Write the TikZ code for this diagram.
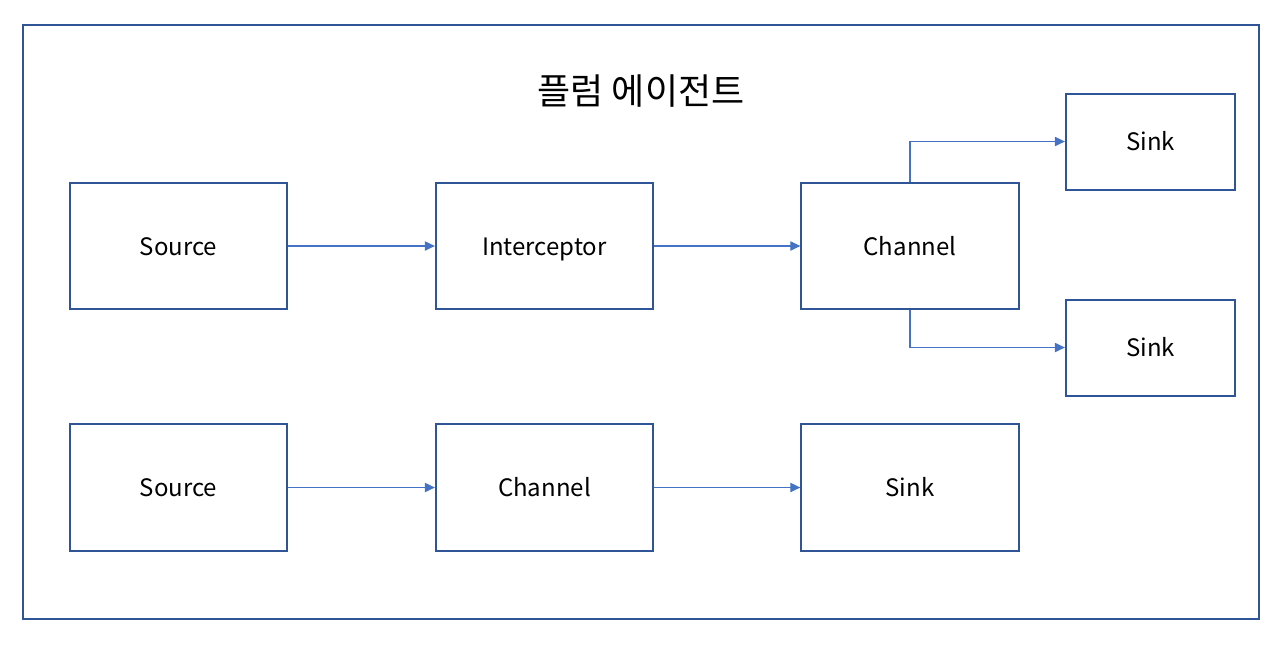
\documentclass[tikz,border=0pt]{standalone}
\usepackage{fontspec}
\setmainfont{Noto Sans CJK KR}
\usepackage{xcolor}
\usepackage{tikz}
\usetikzlibrary{positioning}
\usetikzlibrary{arrows.meta}
\definecolor{boxblue}{HTML}{2F5597}
\definecolor{arrowblue}{HTML}{4472C4}

\begin{document}
\begin{tikzpicture}[x=0.75pt,y=-0.75pt,
  box/.style={draw=boxblue, line width=1.5pt, minimum width=163pt, minimum height=95pt,
    text height=15pt, text depth=1.5pt, font=\fontsize{18}{21}\selectfont},
  sinkbox/.style={box, minimum width=127pt, minimum height=72pt},
  flow/.style={draw=arrowblue, line width=0.8pt, -{Triangle[length=7.5pt,width=7pt]}}]

\useasboundingbox (0,0) rectangle (1277,644);

% Draw agent frame
\draw[boxblue, line width=1.5pt] (23,25) rectangle (1259,619);
\node (title) at (641,91) {\fontsize{27}{31}\selectfont 플럼 에이전트};

% Draw first row
\node[box] (src1) at (178.5,246) {Source};
\node[box] (icpt) at (544.5,246) {Interceptor};
\node[box] (chan1) at (910,246) {Channel};
\node[sinkbox] (sinkA) at (1150.5,141.5) {Sink};
\node[sinkbox] (sinkB) at (1150.5,347.5) {Sink};

% Draw second row
\node[box] (src2) at (178.5,487.5) {Source};
\node[box] (chan2) at (544.5,487.5) {Channel};
\node[box] (sinkC) at (910,487.5) {Sink};

% Draw arrows
\draw[flow] (src1) -- (icpt);
\draw[flow] (icpt) -- (chan1);
\draw[flow] (chan1.north) |- (sinkA.west);
\draw[flow] (chan1.south) |- (sinkB.west);
\draw[flow] (src2) -- (chan2);
\draw[flow] (chan2) -- (sinkC);

\end{tikzpicture}
\end{document}
